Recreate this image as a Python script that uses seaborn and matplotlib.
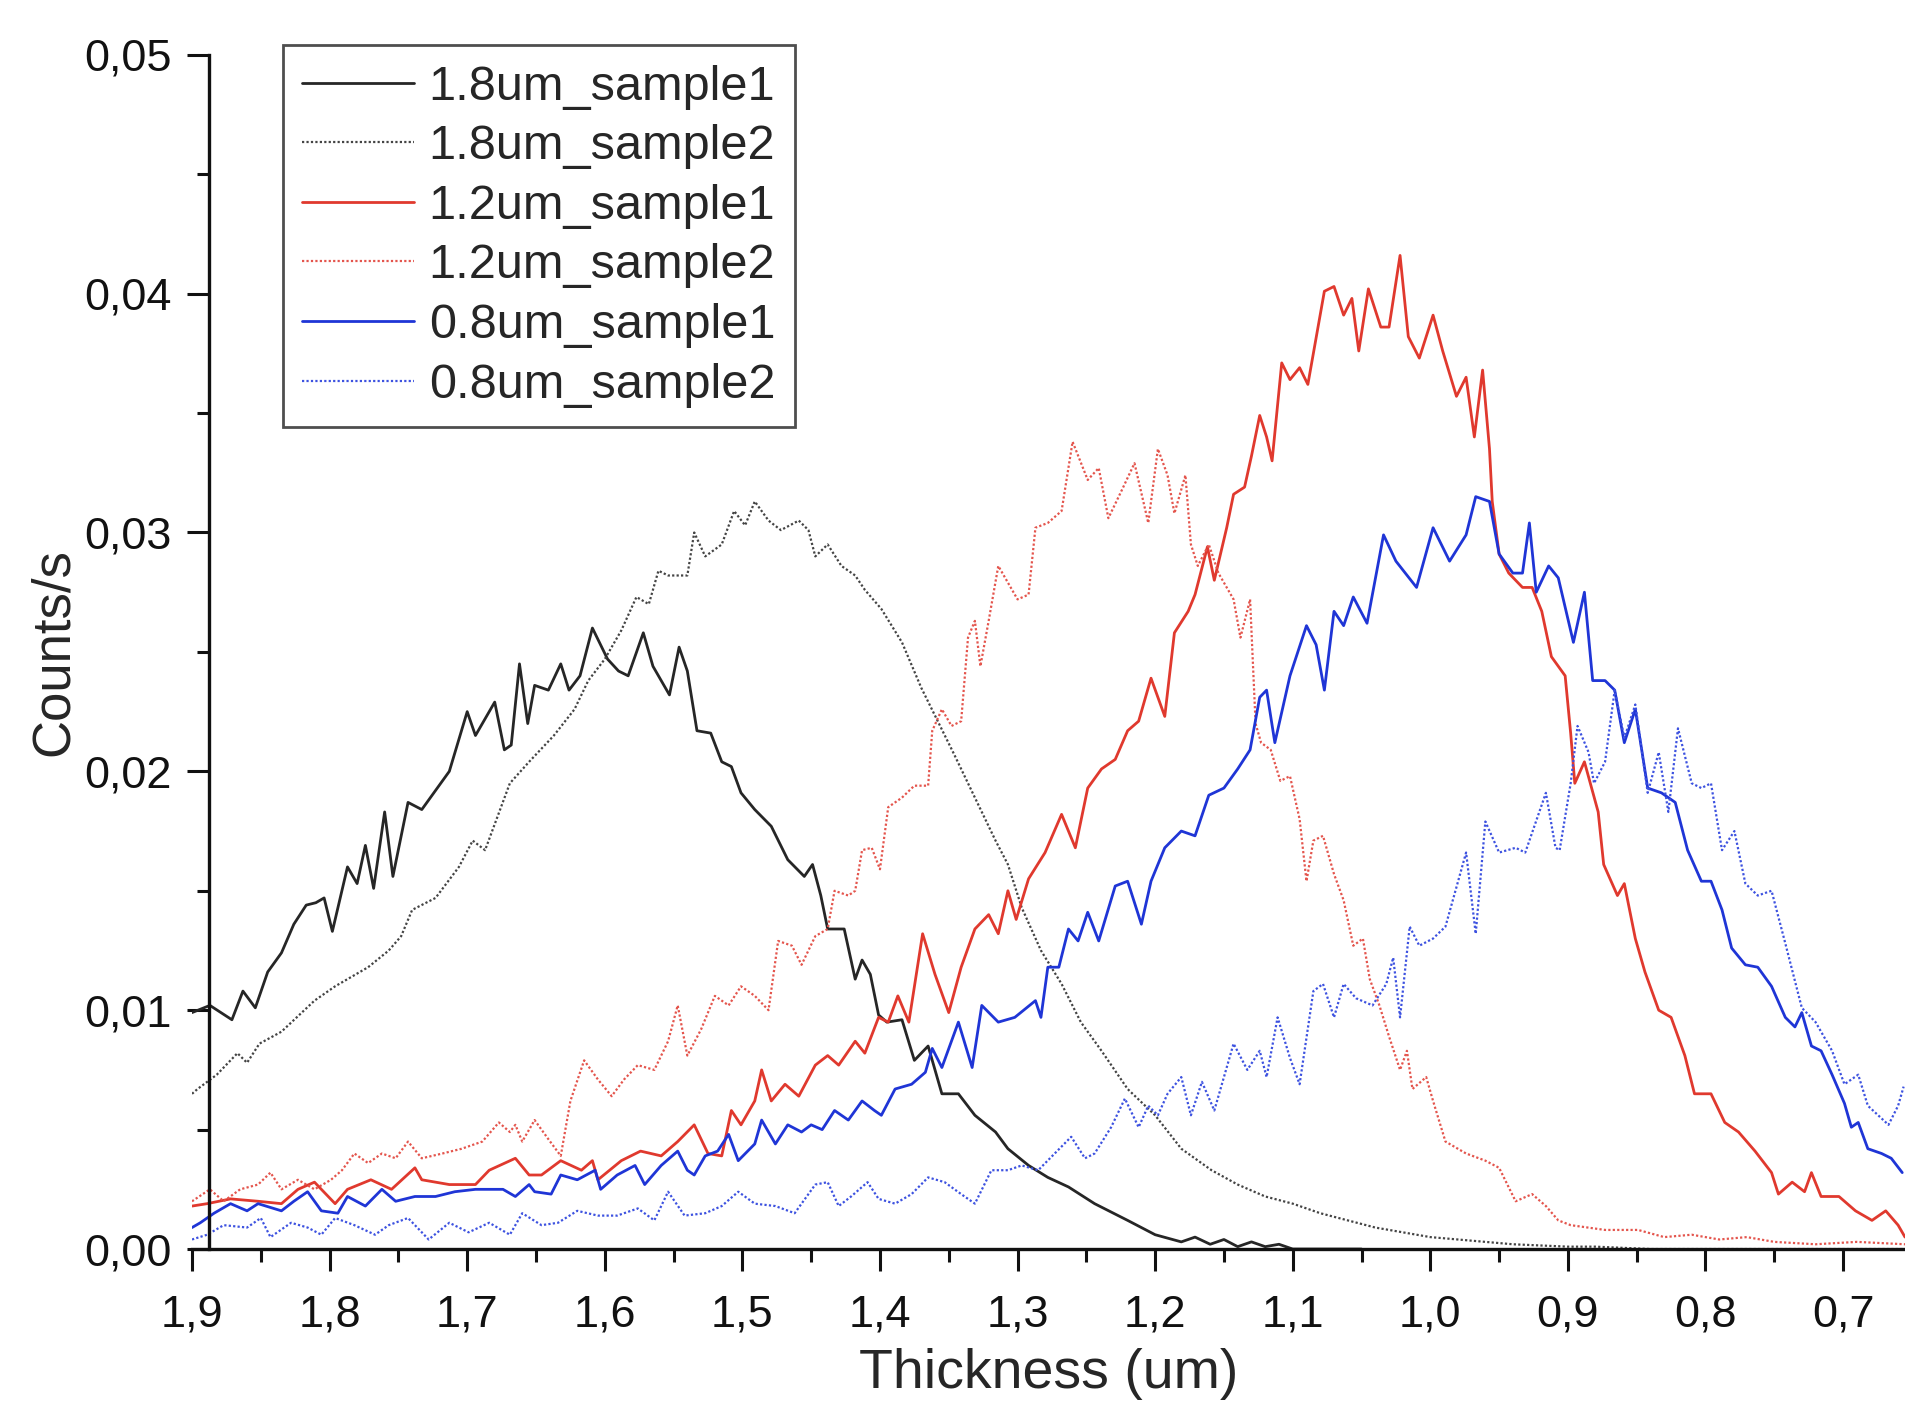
import numpy as np
import pandas as pd
import matplotlib
matplotlib.use("Agg")
import matplotlib.pyplot as plt
from matplotlib.ticker import MultipleLocator, FuncFormatter
import seaborn as sns

# values; counts/s are given in units of 1e-3
x_18_s1 = [1.9, 1.887, 1.871, 1.863, 1.854, 1.845, 1.835, 1.826, 1.817, 1.81, 1.804, 1.798, 1.787, 1.78,
           1.774, 1.768, 1.76, 1.754, 1.743, 1.733, 1.713, 1.70, 1.694, 1.68, 1.673, 1.668, 1.662, 1.656,
           1.651, 1.641, 1.632, 1.626, 1.618, 1.609, 1.598, 1.59, 1.583, 1.572, 1.565, 1.553, 1.546, 1.54,
           1.533, 1.523, 1.515, 1.508, 1.501, 1.491, 1.479, 1.467, 1.455, 1.449, 1.443, 1.438, 1.426, 1.418,
           1.413, 1.407, 1.401, 1.395, 1.384, 1.375, 1.365, 1.355, 1.343, 1.331, 1.316, 1.307, 1.292, 1.278,
           1.263, 1.244, 1.22, 1.20, 1.181, 1.171, 1.16, 1.15, 1.14, 1.13, 1.12, 1.11, 1.10, 1.05]
y_18_s1 = [9.9, 10.2, 9.6, 10.8, 10.1, 11.6, 12.4, 13.6, 14.4, 14.5, 14.7, 13.3, 16.0, 15.3,
           16.9, 15.1, 18.3, 15.6, 18.7, 18.4, 20.0, 22.5, 21.5, 22.9, 20.9, 21.1, 24.5, 22.0,
           23.6, 23.4, 24.5, 23.4, 24.0, 26.0, 24.7, 24.2, 24.0, 25.8, 24.4, 23.2, 25.2, 24.2,
           21.7, 21.6, 20.4, 20.2, 19.1, 18.4, 17.7, 16.3, 15.6, 16.1, 14.8, 13.4, 13.4, 11.3,
           12.1, 11.5, 9.8, 9.5, 9.6, 7.9, 8.5, 6.5, 6.5, 5.6, 4.9, 4.2, 3.5, 3.0,
           2.6, 1.9, 1.2, 0.6, 0.3, 0.5, 0.2, 0.4, 0.1, 0.3, 0.1, 0.2, 0.0, 0.0]

x_18_s2 = [1.9, 1.896, 1.882, 1.867, 1.86, 1.851, 1.835, 1.811, 1.796, 1.772, 1.757, 1.748, 1.74, 1.723,
           1.706, 1.696, 1.687, 1.669, 1.655, 1.637, 1.622, 1.612, 1.6, 1.588, 1.577, 1.568, 1.561, 1.554,
           1.54, 1.535, 1.527, 1.515, 1.506, 1.498, 1.491, 1.481, 1.472, 1.459, 1.452, 1.447, 1.438, 1.428,
           1.418, 1.411, 1.399, 1.384, 1.37, 1.358, 1.346, 1.331, 1.316, 1.307, 1.297, 1.283, 1.268, 1.254,
           1.239, 1.22, 1.20, 1.181, 1.159, 1.14, 1.12, 1.10, 1.08, 1.06, 1.04, 1.02, 1.0, 0.98,
           0.96, 0.94, 0.92, 0.9, 0.88, 0.86, 0.84, 0.8, 0.7, 0.655]
y_18_s2 = [6.5, 6.7, 7.3, 8.2, 7.8, 8.6, 9.1, 10.4, 11.0, 11.8, 12.5, 13.1, 14.2, 14.7,
           16.0, 17.1, 16.7, 19.5, 20.4, 21.5, 22.6, 23.8, 24.7, 25.9, 27.3, 27.0, 28.4, 28.2,
           28.2, 30.0, 29.0, 29.5, 30.9, 30.3, 31.3, 30.5, 30.1, 30.5, 30.1, 29.0, 29.5, 28.6,
           28.2, 27.6, 26.8, 25.4, 23.5, 22.1, 20.7, 18.9, 17.1, 16.1, 14.3, 12.5, 11.1, 9.5,
           8.3, 6.7, 5.6, 4.2, 3.3, 2.7, 2.2, 1.9, 1.5, 1.2, 0.9, 0.7, 0.5, 0.4,
           0.3, 0.2, 0.15, 0.1, 0.1, 0.05, 0.0, 0.0, 0.0, 0.0]

x_12_s1 = [1.9, 1.889, 1.872, 1.852, 1.835, 1.823, 1.811, 1.796, 1.787, 1.77, 1.755, 1.738, 1.733, 1.713,
           1.694, 1.684, 1.665, 1.655, 1.646, 1.632, 1.617, 1.609, 1.605, 1.588, 1.574, 1.559, 1.547, 1.535,
           1.525, 1.515, 1.508, 1.501, 1.491, 1.486, 1.479, 1.469, 1.459, 1.447, 1.438, 1.43, 1.418, 1.411,
           1.401, 1.394, 1.387, 1.379, 1.369, 1.36, 1.35, 1.341, 1.331, 1.321, 1.314, 1.307, 1.301, 1.292,
           1.28, 1.268, 1.258, 1.249, 1.239, 1.229, 1.22, 1.212, 1.203, 1.193, 1.186, 1.176, 1.171, 1.162,
           1.157, 1.148, 1.143, 1.135, 1.13, 1.124, 1.119, 1.115, 1.108, 1.102, 1.095, 1.089, 1.077, 1.07,
           1.063, 1.057, 1.052, 1.045, 1.036, 1.03, 1.022, 1.016, 1.008, 0.998, 0.991, 0.981, 0.974, 0.968,
           0.962, 0.957, 0.955, 0.95, 0.943, 0.933, 0.926, 0.919, 0.912, 0.902, 0.898, 0.895, 0.888, 0.878,
           0.874, 0.864, 0.859, 0.851, 0.844, 0.834, 0.825, 0.815, 0.808, 0.796, 0.786, 0.776, 0.764, 0.752,
           0.747, 0.737, 0.728, 0.723, 0.716, 0.703, 0.691, 0.679, 0.669, 0.66, 0.655]
y_12_s1 = [1.8, 1.9, 2.1, 2.0, 1.9, 2.5, 2.8, 1.9, 2.5, 2.9, 2.5, 3.4, 2.9, 2.7,
           2.7, 3.3, 3.8, 3.1, 3.1, 3.7, 3.3, 3.7, 2.9, 3.7, 4.1, 3.9, 4.5, 5.2,
           4.0, 3.9, 5.8, 5.2, 6.2, 7.5, 6.2, 6.9, 6.4, 7.7, 8.1, 7.7, 8.7, 8.2,
           9.7, 9.5, 10.6, 9.5, 13.2, 11.5, 9.9, 11.8, 13.4, 14.0, 13.2, 15.0, 13.8, 15.5,
           16.6, 18.2, 16.8, 19.3, 20.1, 20.5, 21.7, 22.1, 23.9, 22.3, 25.8, 26.7, 27.4, 29.4,
           28.0, 30.2, 31.6, 31.9, 33.2, 34.9, 34.0, 33.0, 37.1, 36.4, 36.9, 36.2, 40.1, 40.3,
           39.1, 39.8, 37.6, 40.2, 38.6, 38.6, 41.6, 38.2, 37.3, 39.1, 37.6, 35.7, 36.5, 34.0,
           36.8, 33.5, 31.3, 29.1, 28.3, 27.7, 27.7, 26.7, 24.8, 24.0, 21.6, 19.5, 20.4, 18.3,
           16.1, 14.8, 15.3, 13.0, 11.6, 10.0, 9.7, 8.1, 6.5, 6.5, 5.3, 4.9, 4.1, 3.2,
           2.3, 2.8, 2.4, 3.2, 2.2, 2.2, 1.6, 1.2, 1.6, 1.0, 0.5]

x_12_s2 = [1.9, 1.887, 1.877, 1.865, 1.852, 1.843, 1.835, 1.823, 1.811, 1.799, 1.791, 1.782, 1.772, 1.762,
           1.752, 1.743, 1.733, 1.718, 1.704, 1.689, 1.677, 1.669, 1.665, 1.66, 1.651, 1.641, 1.632, 1.625,
           1.615, 1.605, 1.595, 1.586, 1.576, 1.564, 1.554, 1.547, 1.54, 1.53, 1.52, 1.51, 1.501, 1.491,
           1.481, 1.474, 1.464, 1.457, 1.447, 1.438, 1.433, 1.423, 1.418, 1.413, 1.406, 1.4, 1.394, 1.384,
           1.375, 1.365, 1.362, 1.355, 1.348, 1.341, 1.336, 1.331, 1.327, 1.321, 1.314, 1.307, 1.3, 1.292,
           1.287, 1.278, 1.268, 1.26, 1.249, 1.241, 1.234, 1.224, 1.215, 1.205, 1.198, 1.191, 1.186, 1.178,
           1.174, 1.169, 1.161, 1.154, 1.143, 1.138, 1.131, 1.127, 1.123, 1.116, 1.109, 1.102, 1.095, 1.09,
           1.085, 1.078, 1.07, 1.063, 1.056, 1.049, 1.044, 1.037, 1.03, 1.022, 1.017, 1.013, 1.003, 0.998,
           0.989, 0.974, 0.96, 0.95, 0.938, 0.926, 0.916, 0.907, 0.898, 0.873, 0.849, 0.83, 0.81, 0.79,
           0.77, 0.75, 0.72, 0.69, 0.655]
y_12_s2 = [2.0, 2.5, 2.0, 2.5, 2.7, 3.2, 2.5, 2.9, 2.5, 2.9, 3.3, 4.0, 3.6, 4.0,
           3.8, 4.5, 3.8, 4.0, 4.2, 4.5, 5.3, 4.9, 5.2, 4.5, 5.4, 4.6, 3.9, 6.2,
           7.9, 7.1, 6.4, 7.1, 7.7, 7.5, 8.7, 10.2, 8.1, 9.2, 10.6, 10.2, 11.0, 10.6,
           10.0, 12.9, 12.7, 11.9, 13.1, 13.4, 15.0, 14.8, 15.0, 16.7, 16.8, 15.9, 18.5, 18.9,
           19.4, 19.4, 21.7, 22.6, 21.9, 22.1, 25.6, 26.3, 24.4, 26.3, 28.6, 27.9, 27.2, 27.4,
           30.2, 30.4, 30.9, 33.8, 32.2, 32.7, 30.6, 31.8, 32.9, 30.4, 33.5, 32.4, 30.8, 32.4,
           29.5, 28.6, 29.5, 28.3, 27.2, 25.6, 27.2, 22.0, 21.2, 20.9, 19.6, 19.8, 18.0, 15.4,
           17.1, 17.3, 15.7, 14.6, 12.7, 13.0, 11.3, 10.2, 8.9, 7.5, 8.3, 6.7, 7.2, 6.2,
           4.5, 4.0, 3.7, 3.4, 2.0, 2.3, 1.8, 1.2, 1.0, 0.8, 0.8, 0.5, 0.6, 0.4,
           0.5, 0.3, 0.2, 0.3, 0.2]

x_08_s1 = [1.9, 1.894, 1.884, 1.872, 1.86, 1.852, 1.835, 1.826, 1.816, 1.806, 1.794, 1.787, 1.774, 1.762,
           1.752, 1.738, 1.723, 1.709, 1.694, 1.674, 1.665, 1.655, 1.651, 1.639, 1.632, 1.62, 1.607, 1.603,
           1.591, 1.578, 1.571, 1.559, 1.547, 1.54, 1.535, 1.527, 1.518, 1.51, 1.503, 1.491, 1.486, 1.476,
           1.467, 1.457, 1.45, 1.442, 1.433, 1.423, 1.413, 1.404, 1.399, 1.389, 1.377, 1.367, 1.362, 1.355,
           1.343, 1.333, 1.326, 1.314, 1.302, 1.287, 1.283, 1.278, 1.27, 1.263, 1.256, 1.249, 1.241, 1.229,
           1.22, 1.21, 1.203, 1.193, 1.181, 1.171, 1.161, 1.15, 1.14, 1.131, 1.124, 1.119, 1.113, 1.102,
           1.09, 1.083, 1.077, 1.07, 1.063, 1.056, 1.046, 1.034, 1.025, 1.01, 0.998, 0.986, 0.974, 0.967,
           0.957, 0.95, 0.94, 0.933, 0.928, 0.923, 0.914, 0.907, 0.896, 0.888, 0.882, 0.873, 0.866, 0.859,
           0.851, 0.842, 0.832, 0.822, 0.813, 0.803, 0.796, 0.788, 0.781, 0.771, 0.762, 0.752, 0.742, 0.735,
           0.73, 0.723, 0.716, 0.708, 0.699, 0.694, 0.689, 0.682, 0.672, 0.665, 0.657]
y_08_s1 = [0.9, 1.1, 1.5, 1.9, 1.6, 1.9, 1.6, 2.0, 2.4, 1.6, 1.5, 2.2, 1.8, 2.5,
           2.0, 2.2, 2.2, 2.4, 2.5, 2.5, 2.2, 2.7, 2.4, 2.3, 3.1, 2.9, 3.3, 2.5,
           3.1, 3.5, 2.7, 3.5, 4.1, 3.3, 3.1, 3.9, 4.1, 4.8, 3.7, 4.4, 5.4, 4.4,
           5.2, 4.9, 5.2, 5.0, 5.8, 5.4, 6.2, 5.8, 5.6, 6.7, 6.9, 7.4, 8.4, 7.6,
           9.5, 7.6, 10.2, 9.5, 9.7, 10.4, 9.7, 11.8, 11.8, 13.4, 12.9, 14.1, 12.9, 15.2,
           15.4, 13.6, 15.4, 16.8, 17.5, 17.3, 19.0, 19.3, 20.1, 20.9, 23.1, 23.4, 21.2, 24.0,
           26.1, 25.3, 23.4, 26.7, 26.1, 27.3, 26.2, 29.9, 28.8, 27.7, 30.2, 28.8, 29.9, 31.5,
           31.3, 29.1, 28.3, 28.3, 30.4, 27.5, 28.6, 28.1, 25.4, 27.5, 23.8, 23.8, 23.4, 21.2,
           22.6, 19.3, 19.1, 18.7, 16.7, 15.4, 15.4, 14.2, 12.6, 11.9, 11.8, 11.0, 9.7, 9.3,
           9.9, 8.5, 8.3, 7.3, 6.1, 5.1, 5.3, 4.2, 4.0, 3.8, 3.2]

x_08_s2 = [1.9, 1.889, 1.877, 1.86, 1.85, 1.843, 1.828, 1.816, 1.806, 1.796, 1.782, 1.767, 1.757, 1.743,
           1.728, 1.713, 1.699, 1.684, 1.669, 1.66, 1.646, 1.634, 1.62, 1.605, 1.591, 1.576, 1.564, 1.554,
           1.542, 1.527, 1.515, 1.503, 1.491, 1.476, 1.462, 1.447, 1.438, 1.43, 1.421, 1.409, 1.401, 1.389,
           1.377, 1.365, 1.353, 1.341, 1.331, 1.319, 1.307, 1.297, 1.285, 1.273, 1.261, 1.251, 1.244, 1.232,
           1.222, 1.212, 1.205, 1.198, 1.191, 1.181, 1.174, 1.166, 1.157, 1.143, 1.133, 1.124, 1.119, 1.111,
           1.102, 1.095, 1.085, 1.078, 1.07, 1.063, 1.054, 1.042, 1.032, 1.027, 1.022, 1.015, 1.008, 0.998,
           0.989, 0.974, 0.967, 0.96, 0.95, 0.938, 0.931, 0.916, 0.909, 0.906, 0.898, 0.893, 0.885, 0.881,
           0.873, 0.866, 0.859, 0.851, 0.842, 0.834, 0.827, 0.82, 0.81, 0.803, 0.796, 0.788, 0.779, 0.771,
           0.762, 0.752, 0.742, 0.73, 0.72, 0.708, 0.699, 0.689, 0.682, 0.667, 0.66, 0.656]
y_08_s2 = [0.4, 0.6, 1.0, 0.9, 1.3, 0.5, 1.1, 0.9, 0.6, 1.3, 1.0, 0.6, 1.0, 1.3,
           0.4, 1.1, 0.7, 1.1, 0.6, 1.5, 1.0, 1.1, 1.6, 1.4, 1.4, 1.7, 1.2, 2.4,
           1.4, 1.5, 1.8, 2.4, 1.9, 1.8, 1.5, 2.7, 2.8, 1.8, 2.2, 2.8, 2.1, 1.9,
           2.3, 3.0, 2.8, 2.3, 1.9, 3.3, 3.3, 3.5, 3.3, 4.0, 4.7, 3.8, 4.0, 5.1,
           6.3, 5.1, 6.0, 5.6, 6.5, 7.2, 5.6, 7.0, 5.8, 8.6, 7.5, 8.3, 7.2, 9.7,
           8.0, 6.9, 10.8, 11.1, 9.7, 11.1, 10.5, 10.2, 11.1, 12.2, 9.7, 13.5, 12.7, 13.0,
           13.5, 16.6, 13.2, 17.9, 16.6, 16.8, 16.6, 19.1, 16.8, 16.7, 19.5, 21.9, 20.8, 19.5,
           20.4, 23.4, 21.4, 22.8, 19.1, 20.8, 18.3, 21.8, 19.5, 19.3, 19.5, 16.7, 17.5, 15.3,
           14.8, 15.0, 12.8, 10.1, 9.5, 8.3, 6.9, 7.3, 6.0, 5.2, 6.0, 6.8]

series = [
    ("1.8um_sample1", x_18_s1, y_18_s1),
    ("1.8um_sample2", x_18_s2, y_18_s2),
    ("1.2um_sample1", x_12_s1, y_12_s1),
    ("1.2um_sample2", x_12_s2, y_12_s2),
    ("0.8um_sample1", x_08_s1, y_08_s1),
    ("0.8um_sample2", x_08_s2, y_08_s2),
]
styles = {
    "1.8um_sample1": ("#262626", "-", 2.0),
    "1.8um_sample2": ("#444444", (0, (1, 1)), 1.6),
    "1.2um_sample1": ("#e0392e", "-", 2.0),
    "1.2um_sample2": ("#e4554d", (0, (1, 1)), 1.6),
    "0.8um_sample1": ("#1f35d6", "-", 2.0),
    "0.8um_sample2": ("#3d52e0", (0, (1, 1)), 1.6),
}

frames = []
for name, xs, ys in series:
    frames.append(pd.DataFrame({"Thickness": xs, "Counts": np.array(ys) * 1e-3, "Sample": name}))
df = pd.concat(frames, ignore_index=True)

sns.set_style("ticks")
plt.rcParams["font.family"] = ["Liberation Sans", "DejaVu Sans"]

fig = plt.figure(figsize=(19.05, 14.05), dpi=100)
ax = fig.add_axes([0.1008, 0.111, 0.8992, 0.85])

for name, xs, ys in series:
    color, ls, lw = styles[name]
    sns.lineplot(data=df[df["Sample"] == name], x="Thickness", y="Counts", ax=ax,
                 color=color, linestyle=ls, linewidth=lw, label=name, sort=False,
                 estimator=None)

ax.set_xlim(1.9, 0.655)
ax.set_ylim(0, 0.05)

ax.spines["top"].set_visible(False)
ax.spines["right"].set_visible(False)
ax.spines["left"].set_position(("data", 1.8876))
for s in ("left", "bottom"):
    ax.spines[s].set_linewidth(2.4)
    ax.spines[s].set_color("#111111")

ax.xaxis.set_major_locator(MultipleLocator(0.1))
ax.xaxis.set_minor_locator(MultipleLocator(0.05))
ax.yaxis.set_major_locator(MultipleLocator(0.01))
ax.yaxis.set_minor_locator(MultipleLocator(0.005))
ax.xaxis.set_major_formatter(FuncFormatter(lambda v, p: f"{v:.1f}".replace(".", ",")))
ax.yaxis.set_major_formatter(FuncFormatter(lambda v, p: f"{v:.2f}".replace(".", ",")))
ax.tick_params(which="major", direction="out", length=16, width=2.2, labelsize=32.5,
               colors="#111111")
ax.tick_params(which="minor", direction="out", length=9, width=2.2, colors="#111111")
ax.tick_params(axis="x", which="major", pad=17)
ax.tick_params(axis="y", which="major", pad=11)

ax.set_xlabel("Thickness (um)", fontsize=40, labelpad=9)
ax.set_ylabel("Counts/s", fontsize=38, labelpad=4)

leg = ax.legend(loc="upper left", bbox_to_anchor=(0.053, 1.008), borderaxespad=0,
                fontsize=35, handlelength=2.3, handletextpad=0.3, labelspacing=0.3,
                borderpad=0.4, frameon=True, fancybox=False)
leg.get_frame().set_edgecolor("#222222")
leg.get_frame().set_linewidth(2.0)

fig.savefig("out.png", dpi=100)
